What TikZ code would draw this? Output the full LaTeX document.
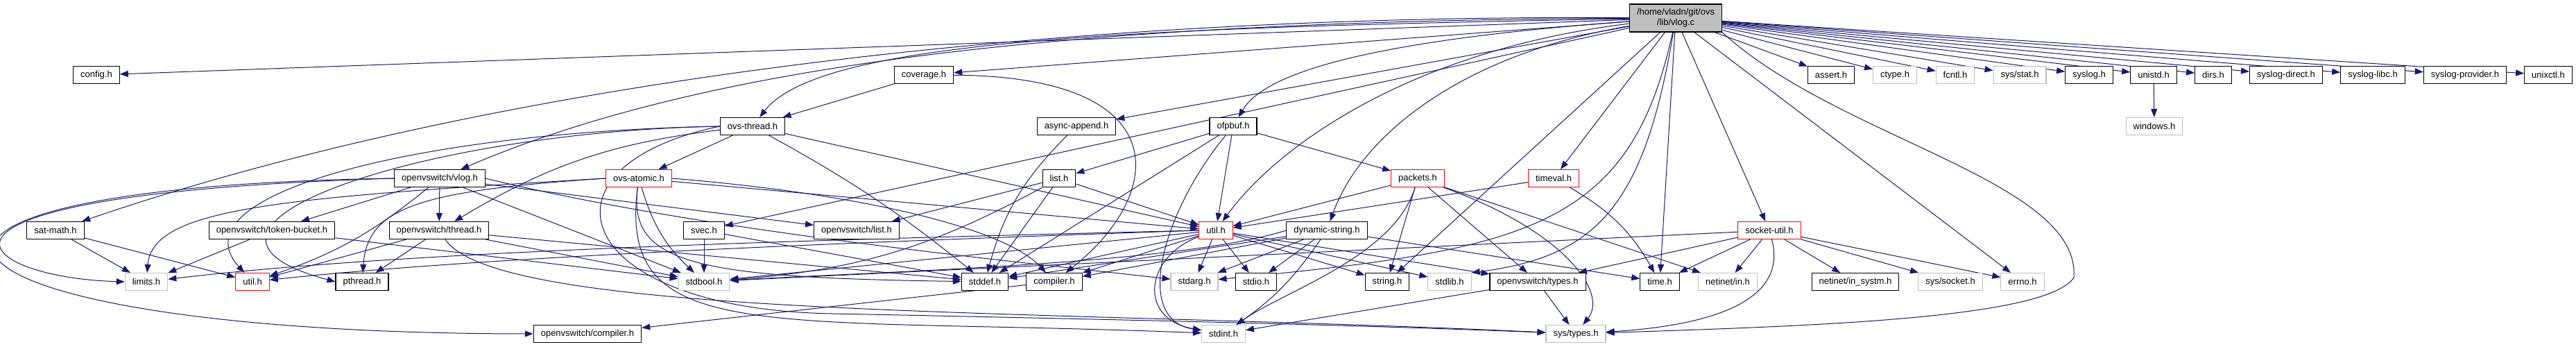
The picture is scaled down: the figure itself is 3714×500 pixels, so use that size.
\documentclass[tikz,border=0pt]{standalone}
\usepackage{fontspec}
\setmainfont{Liberation Sans}
\usepackage{tikz}
\usetikzlibrary{arrows.meta,backgrounds}
\definecolor{edgeblue}{HTML}{191970}
\definecolor{sysgray}{HTML}{BFBFBF}
\newcommand{\hfont}{\fontsize{13}{15}\selectfont}

\begin{document}
\begin{tikzpicture}[x=1pt,y=-1pt,
  hdr/.style={draw=black,line width=1.1pt,fill=white,font=\hfont,
              inner xsep=10.5pt,inner ysep=0pt,minimum height=25pt},
  sys/.style={hdr,draw=sysgray},
  trunc/.style={hdr,draw=red},
  root/.style={hdr,fill=sysgray,align=center,minimum height=40pt},
  a/.style={-{Triangle[length=12pt,width=9pt]},edgeblue,line width=1pt}]
\useasboundingbox (0,0) rectangle (3714,500);
\node[root] (v) at (2416,26) {/home/vladn/git/ovs\\/lib/vlog.c};
\node[hdr] (config) at (139,108) {config.h};
\node[hdr] (coverage) at (1332,108) {coverage.h};
\node[hdr] (assert) at (2640,108) {assert.h};
\node[sys] (ctype) at (2732,108) {ctype.h};
\node[sys] (fcntl) at (2819,108) {fcntl.h};
\node[sys] (sysstat) at (2912,108) {sys/stat.h};
\node[hdr] (syslog) at (3012,108) {syslog.h};
\node[hdr] (unistd) at (3105,108) {unistd.h};
\node[hdr] (dirs) at (3191,108) {dirs.h};
\node[hdr] (syslogdirect) at (3296,108) {syslog-direct.h};
\node[hdr] (sysloglibc) at (3421,108) {syslog-libc.h};
\node[hdr] (syslogprovider) at (3554,108) {syslog-provider.h};
\node[hdr] (unixctl) at (3674,108) {unixctl.h};
\node[hdr] (ovsthread) at (1085,182) {ovs-thread.h};
\node[hdr] (asyncapp) at (1552,182) {async-append.h};
\node[hdr] (ofpbuf) at (1778,182) {ofpbuf.h};
\node[sys] (windows) at (3106,182) {windows.h};
\node[hdr] (ovlog) at (634,257) {openvswitch/vlog.h};
\node[trunc] (ovsatomic) at (921,257) {ovs-atomic.h};
\node[hdr] (list) at (1527,257) {list.h};
\node[trunc] (packets) at (2044,257) {packets.h};
\node[trunc] (timeval) at (2240,257) {timeval.h};
\node[hdr] (satmath) at (80,332) {sat-math.h};
\node[hdr] (tokenbucket) at (392,332) {openvswitch/token-bucket.h};
\node[hdr] (othread) at (633,332) {openvswitch/thread.h};
\node[hdr] (svec) at (1015,332) {svec.h};
\node[hdr] (olist) at (1235,332) {openvswitch/list.h};
\node[trunc] (util) at (1753,332) {util.h};
\node[hdr] (dynstr) at (1913,332) {dynamic-string.h};
\node[trunc] (socketutil) at (2551,332) {socket-util.h};
\node[sys] (limits) at (211,406) {limits.h};
\node[trunc] (outil) at (364,406) {util.h};
\node[hdr] (pthread) at (522,406) {pthread.h};
\node[sys] (stdbool) at (1015,406) {stdbool.h};
\node[hdr] (stddef) at (1420,406) {stddef.h};
\node[hdr] (compiler) at (1520,406) {compiler.h};
\node[sys] (stdarg) at (1722,406) {stdarg.h};
\node[hdr] (stdio) at (1811,406) {stdio.h};
\node[hdr] (string) at (2000,406) {string.h};
\node[sys] (stdlib) at (2090,406) {stdlib.h};
\node[hdr] (otypes) at (2217,406) {openvswitch/types.h};
\node[hdr] (time) at (2393,406) {time.h};
\node[sys] (netin) at (2491,406) {netinet/in.h};
\node[hdr] (insystm) at (2675,406) {netinet/in\_systm.h};
\node[sys] (syssocket) at (2812,406) {sys/socket.h};
\node[sys] (errno) at (2916,406) {errno.h};
\node[hdr] (ocompiler) at (847,481) {openvswitch/compiler.h};
\node[sys] (stdint) at (1764,481) {stdint.h};
\node[sys] (systypes) at (2272,481) {sys/types.h};
\begin{scope}[on background layer]
\path[a] (v) edge (config) edge (coverage) edge (asyncapp) edge (svec)
  edge (timeval) edge (time) edge (string) edge (socketutil) edge (errno)
  edge (assert) edge (ctype) edge (fcntl) edge (sysstat) edge (syslog)
  edge (unistd) edge (dirs) edge (syslogdirect) edge (sysloglibc)
  edge (syslogprovider) edge (unixctl);
\draw[a] (v) .. controls (2050,70) and (1850,200) .. (util);
\draw[a] (v) .. controls (1500,20) and (700,120) .. (satmath);
\draw[a] (v) .. controls (1500,30) and (1000,100) .. (ovlog);
\draw[a] (v) .. controls (1600,40) and (1180,60) .. (ovsthread);
\draw[a] (v) .. controls (1950,60) and (1820,110) .. (ofpbuf);
\draw[a] (v) .. controls (2100,80) and (1960,200) .. (dynstr);
\draw[a] (v) .. controls (2350,330) and (2200,360) .. (stdarg);
\draw[a] (v) .. controls (2370,300) and (2300,370) .. (stdlib.north east);
\draw[a] (v.south east) .. controls (2650,200) and (3000,260) .. (2990,400)
  .. controls (2950,460) and (2600,470) .. (systypes);
\path[a] (ovlog) edge (othread) edge (tokenbucket) edge (olist) edge (stdbool)
  edge[bend left=10] (outil);
\draw[a] (ovlog.east) .. controls (1000,330) and (1400,370) .. (stdarg);
\draw[a] (ovlog.west) .. controls (-190,280) and (-40,400) .. (limits.west);
\draw[a] (ovlog.west) .. controls (-300,270) and (-150,480) .. (ocompiler.west);
\path[a] (tokenbucket) edge (limits) edge (stdbool);
\path[a] (othread) edge (pthread) edge (outil) edge (stdbool) edge (stddef);
\draw[a] (othread) .. controls (720,460) and (1500,445) .. (systypes);
\path[a] (satmath) edge (limits) edge (outil);
\path[a] (ovsthread) edge (ovsatomic) edge[bend right=12] (othread) edge (util)
  edge[bend left=5] (stddef);
\draw[a] (ovsthread.west) .. controls (600,190) and (250,280) .. (outil);
\draw[a] (ovsthread.west) .. controls (600,190) and (200,330) .. (pthread.west);
\draw[a] (ovsthread.west) .. controls (760,240) and (820,445) .. (1200,452)
  .. controls (1700,462) and (2000,470) .. (systypes);
\path[a] (ovsatomic) edge (util) edge[bend right=15] (stdbool);
\draw[a] (ovsatomic.west) .. controls (400,285) and (220,300) .. (limits);
\draw[a] (ovsatomic.west) .. controls (600,275) and (530,300) .. (pthread);
\draw[a] (ovsatomic) .. controls (905,380) and (1000,400) .. (stddef);
\draw[a] (ovsatomic) .. controls (890,500) and (1100,455) .. (stdint);
\draw[a] (ovsatomic.east) .. controls (1250,280) and (1450,330) .. (compiler);
\path[a] (svec) edge (stdbool) edge (stddef);
\path[a] (list) edge (olist) edge (stddef) edge (util) edge[bend left=12] (stdbool);
\path[a] (asyncapp) edge[bend right=15] (stddef);
\path[a] (coverage) edge (ovsthread);
\draw[a] (coverage) .. controls (1700,110) and (1680,280) .. (compiler);
\path[a] (ofpbuf) edge (list) edge (stddef) edge (packets) edge (util);
\draw[a] (ofpbuf) .. controls (1680,300) and (1630,460) .. (stdint);
\path[a] (util) edge (stdarg) edge (stdio) edge (stddef) edge (compiler)
  edge (stdbool) edge (stdlib) edge (string) edge (otypes);
\draw[a] (util.west) .. controls (1200,345) and (600,360) .. (limits);
\draw[a] (util.west) .. controls (1200,350) and (700,370) .. (outil);
\draw[a] (util) .. controls (1650,370) and (1640,460) .. (stdint);
\path[a] (dynstr) edge (stdarg) edge (stdio) edge (stddef) edge (compiler)
  edge (time) edge[bend left=10] (stdint);
\draw[a] (dynstr.west) .. controls (1700,380) and (1300,390) .. (stdbool);
\path[a] (packets) edge (util) edge (string) edge (otypes) edge (netin);
\draw[a] (packets) .. controls (2010,370) and (1850,420) .. (stdint);
\draw[a] (packets) .. controls (2250,330) and (2320,420) .. (systypes);
\path[a] (timeval) edge (util) edge[bend left=15] (time);
\path[a] (otypes) edge (stdint) edge (systypes);
\path[a] (compiler) edge (ocompiler);
\path[a] (socketutil) edge (stdbool) edge (otypes) edge (time) edge (netin)
  edge (insystm) edge (syssocket) edge (errno);
\draw[a] (socketutil) .. controls (2580,440) and (2450,470) .. (systypes);
\path[a] (unistd) edge (windows);
\end{scope}
\end{tikzpicture}
\end{document}
